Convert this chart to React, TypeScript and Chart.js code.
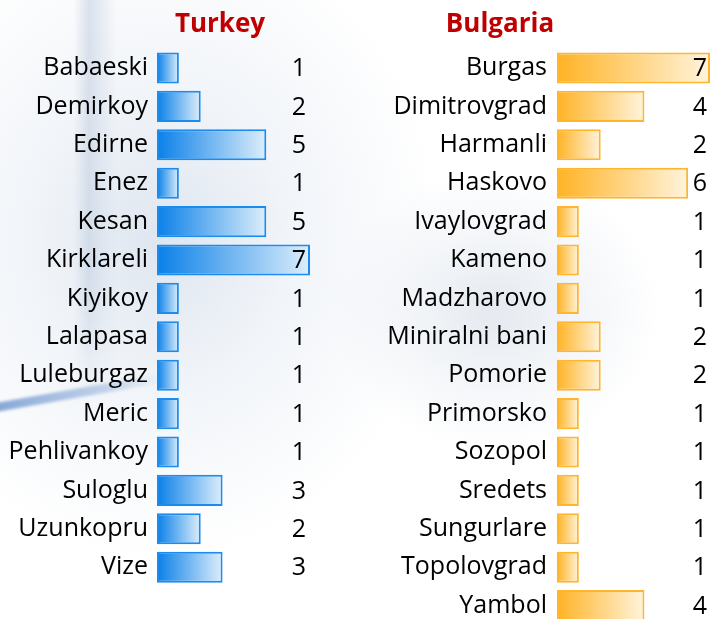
import React, { useEffect, useRef } from "react";
import { Chart, registerables } from "chart.js";

Chart.register(...registerables);

// ---- data ----
const turkeyTitle = "Turkey";
const turkeyCities = [
  "Babaeski", "Demirkoy", "Edirne", "Enez", "Kesan", "Kirklareli", "Kiyikoy",
  "Lalapasa", "Luleburgaz", "Meric", "Pehlivankoy", "Suloglu", "Uzunkopru", "Vize",
];
const turkeyCounts = [1, 2, 5, 1, 5, 7, 1, 1, 1, 1, 1, 3, 2, 3];

const bulgariaTitle = "Bulgaria";
const bulgariaCities = [
  "Burgas", "Dimitrovgrad", "Harmanli", "Haskovo", "Ivaylovgrad", "Kameno",
  "Madzharovo", "Miniralni bani", "Pomorie", "Primorsko", "Sozopol", "Sredets",
  "Sungurlare", "Topolovgrad", "Yambol",
];
const bulgariaCounts = [7, 4, 2, 6, 1, 1, 1, 2, 2, 1, 1, 1, 1, 1, 4];

const axisMax = 7;

const FONT = '"Open Sans", "Noto Sans", sans-serif';
const LABEL_SIZE = 25;

const overlayPlugin = {
  id: "overlay",
  afterDatasetsDraw(chart: any, _args: any, opts: any) {
    const ctx = chart.ctx;
    const area = chart.chartArea;
    ctx.save();
    const meta = chart.getDatasetMeta(0);
    const data = chart.data.datasets[0].data;
    ctx.font = `${LABEL_SIZE}px ${FONT}`;
    ctx.fillStyle = "#000";
    ctx.textAlign = "right";
    ctx.textBaseline = "middle";
    meta.data.forEach((bar: any, i: number) => {
      ctx.fillText(String(data[i]), area.right - opts.valueInset, bar.y + 1);
    });
    ctx.font = `bold 26px ${FONT}`;
    ctx.fillStyle = "#C00000";
    ctx.textAlign = "center";
    ctx.textBaseline = "alphabetic";
    ctx.fillText(opts.title, opts.titleX, opts.titleY);
    ctx.restore();
  },
};

type BarProps = {
  labels: string[];
  values: number[];
  title: string;
  left: number;
  width: number;
  height: number;
  yWidth: number;
  padRight: number;
  padTop: number;
  padBottom: number;
  tickPad: number;
  titleX: number;
  valueInset: number;
  c0: string;
  c1: string;
  border: string;
};

function BarPanel(p: BarProps) {
  const ref = useRef<HTMLCanvasElement | null>(null);
  useEffect(() => {
    if (!ref.current) return;
    const chart = new Chart(ref.current, {
      type: "bar",
      data: {
        labels: p.labels,
        datasets: [
          {
            data: p.values,
            backgroundColor: (c: any) => {
              const ch = c.chart;
              const xs = ch.scales && ch.scales.x;
              if (!ch.chartArea || !xs || c.raw === undefined) return p.c0;
              const x0 = xs.getPixelForValue(0);
              const x1 = xs.getPixelForValue(c.raw);
              const g = ch.ctx.createLinearGradient(x0, 0, x1, 0);
              g.addColorStop(0, p.c0);
              g.addColorStop(1, p.c1);
              return g;
            },
            borderColor: p.border,
            borderWidth: 2,
            borderSkipped: false,
            categoryPercentage: 1,
            barPercentage: 0.81,
          },
        ],
      },
      options: {
        indexAxis: "y",
        animation: false,
        responsive: false,
        maintainAspectRatio: false,
        layout: {
          padding: { top: p.padTop, bottom: p.padBottom, left: 0, right: p.padRight },
        },
        scales: {
          x: { display: false, min: 0, max: axisMax },
          y: {
            grid: { display: false, drawTicks: false },
            border: { display: false },
            ticks: {
              color: "#000",
              font: { family: FONT, size: LABEL_SIZE },
              padding: p.tickPad,
              autoSkip: false,
            },
            afterFit: (scale: any) => {
              scale.width = p.yWidth;
              scale.paddingTop = 0;
              scale.paddingBottom = 0;
            },
          },
        },
        plugins: {
          legend: { display: false },
          tooltip: { enabled: false },
          overlay: {
            title: p.title,
            titleX: p.titleX,
            titleY: 32,
            valueInset: p.valueInset,
          },
        } as any,
      },
      plugins: [overlayPlugin as any],
    } as any);
    return () => chart.destroy();
  }, []);
  return (
    <canvas
      ref={ref}
      width={p.width}
      height={p.height}
      style={{ position: "absolute", left: p.left, top: 0, width: p.width, height: p.height }}
    />
  );
}

export default function App() {
  return (
    <div
      style={{
        position: "fixed",
        left: 0,
        top: 0,
        width: 724,
        height: 619,
        overflow: "hidden",
        background: "#ffffff",
      }}
    >
      {/* decorative background */}
      <div
        style={{
          position: "absolute",
          left: -120,
          top: -80,
          width: 560,
          height: 640,
          background:
            "radial-gradient(closest-side, rgba(208,219,233,0.7) 0%, rgba(226,233,242,0.5) 45%, rgba(255,255,255,0) 100%)",
        }}
      />
      <div
        style={{
          position: "absolute",
          left: 74,
          top: 0,
          width: 42,
          height: 400,
          background:
            "linear-gradient(to right, rgba(205,216,229,0) 0%, rgba(196,209,225,0.6) 35%, rgba(214,223,234,0.45) 70%, rgba(225,232,240,0) 100%)",
          WebkitMaskImage: "linear-gradient(to bottom, #000 70%, transparent 100%)",
          maskImage: "linear-gradient(to bottom, #000 70%, transparent 100%)",
        }}
      />
      <div
        style={{
          position: "absolute",
          left: -10,
          top: 404,
          width: 175,
          height: 9,
          transform: "rotate(-10deg)",
          transformOrigin: "left center",
          background:
            "linear-gradient(to right, rgba(110,150,205,0.85), rgba(150,180,220,0.5) 70%, rgba(200,215,235,0))",
          filter: "blur(1.5px)",
        }}
      />
      <div
        style={{
          position: "absolute",
          left: 330,
          top: 170,
          width: 330,
          height: 280,
          background:
            "radial-gradient(closest-side, rgba(222,228,236,0.8) 0%, rgba(235,239,244,0.55) 55%, rgba(255,255,255,0) 100%)",
        }}
      />
      <BarPanel
        labels={turkeyCities}
        values={turkeyCounts}
        title={turkeyTitle}
        left={0}
        width={360}
        height={619}
        yWidth={157}
        padRight={50}
        padTop={48.8}
        padBottom={619 - 48.8 - 14 * 38.4}
        tickPad={9}
        titleX={220}
        valueInset={4}
        c0="#0A80E8"
        c1="#DDEEFB"
        border="#1A8CF0"
      />
      <BarPanel
        labels={bulgariaCities}
        values={bulgariaCounts}
        title={bulgariaTitle}
        left={360}
        width={364}
        height={640}
        yWidth={197}
        padRight={14}
        padTop={48.8}
        padBottom={640 - 48.8 - 15 * 38.4}
        tickPad={10}
        titleX={140}
        valueInset={3}
        c0="#FFB325"
        c1="#FFF4DC"
        border="#FFB52E"
      />
    </div>
  );
}
